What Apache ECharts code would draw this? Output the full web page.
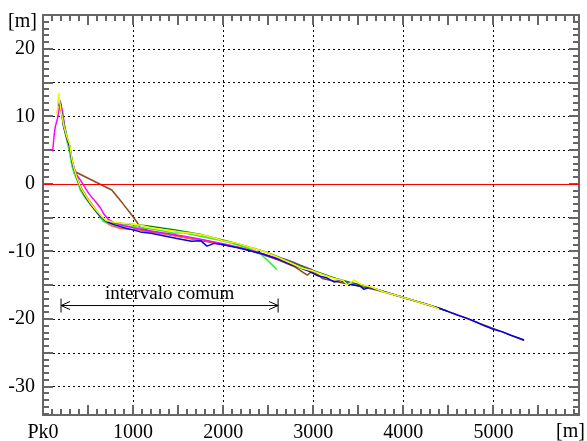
<!DOCTYPE html>
<html>
<head>
<meta charset="utf-8">
<script src="https://cdn.jsdelivr.net/npm/echarts@6/dist/echarts.min.js"></script>
<style>
html,body{margin:0;padding:0;background:#fff;}
#c{width:587px;height:441px;}
</style>
</head>
<body>
<div id="c"></div>
<script>
// ---- axis ranges / tick labels ----
const X_MIN = 0, X_MAX = 5950;
const Y_MIN = -34.2, Y_MAX = 25;
const xTickLabels = ['Pk0', '1000', '2000', '3000', '4000', '5000'];
const xUnit = '[m]';
const yUnit = '[m]';
const zeroLevel = 0;

// ---- annotation ----
const annotX = [200, 2610];
const annotY = -18;
const annotText = 'intervalo comum';

// ---- series (distance [m], level [m]) ----
const brownX = [195, 229, 267, 296, 322, 356, 763, 880, 985, 1040, 1081, 1200, 1400, 1600, 1800, 2000, 2200, 2400, 2600, 2800, 2933, 2980, 3050, 3100, 3200, 3300, 3500, 3700, 3900, 4100, 4300, 4500, 4700, 4900, 5100, 5341];
const brownY = [12.0, 8.6, 6.8, 5.5, 3.4, 1.8, -0.9, -2.8, -4.6, -5.6, -6.5, -7.0, -7.5, -8.0, -8.5, -9.0, -9.5, -10.3, -11.2, -12.3, -13.5, -13.0, -13.4, -14.0, -14.3, -14.6, -15.1, -15.7, -16.4, -17.2, -18.0, -18.9, -19.9, -20.9, -21.9, -23.2];

const orangeX = [195, 229, 267, 296, 322, 345, 380, 430, 490, 560, 630, 690, 760, 859, 950, 1050, 1200, 1350, 1500, 1650, 1800, 1950, 2100, 2250, 2400, 2550, 2700];
const orangeY = [11.6, 8.8, 6.6, 5.4, 3.2, 2.1, 0.8, -0.7, -2.0, -3.3, -4.6, -5.6, -6.2, -6.6, -6.7, -6.8, -7.1, -7.4, -7.8, -8.1, -8.4, -8.8, -9.2, -9.6, -10.2, -10.9, -11.6];

const lgreenX = [178, 192, 215, 240, 267, 296, 322, 345, 377, 414, 470, 520, 562, 618, 673, 720, 800, 900, 1000, 1100, 1250, 1350, 1450, 1550, 1650, 1800, 1950, 2100, 2250, 2400, 2467, 2530, 2596];
const lgreenY = [12.6, 11.6, 9.5, 7.8, 6.3, 4.6, 2.6, 1.6, 0.6, -0.9, -2.1, -2.9, -3.6, -4.6, -5.6, -5.8, -6.0, -6.2, -6.3, -6.5, -6.8, -7.0, -7.3, -7.2, -7.5, -7.9, -8.3, -8.8, -9.4, -10.2, -11.0, -11.8, -12.7];

const magentaX = [107, 126, 137, 160, 192, 215, 240, 267, 296, 322, 345, 380, 414, 460, 507, 550, 600, 640, 673, 729, 800, 900, 1000, 1150, 1300, 1450, 1600, 1750, 1900, 2050, 2200, 2350, 2500, 2600, 2700, 2780, 2850, 2930, 2990];
const magentaY = [4.8, 7.5, 8.5, 9.6, 12.2, 10.8, 8.6, 6.8, 5.5, 3.4, 2.3, 1.2, 0.6, -0.4, -1.4, -2.1, -2.9, -3.6, -4.4, -5.3, -5.8, -6.2, -6.5, -6.9, -7.2, -7.5, -7.8, -8.2, -8.6, -9.0, -9.5, -10.0, -10.6, -11.0, -11.2, -11.6, -12.0, -12.4, -12.7];

const dgreenX = [175, 190, 210, 240, 267, 296, 322, 345, 377, 420, 470, 530, 590, 650, 700, 780, 900, 1000, 1150, 1300, 1450, 1600, 1750, 1900, 2050, 2200, 2350, 2500, 2650, 2800, 2950, 3100, 3250, 3414, 3550, 3700, 3850, 4000, 4150, 4300, 4420, 4489];
const dgreenY = [11.8, 12.0, 10.6, 8.4, 6.9, 5.6, 3.5, 2.3, 0.8, -0.7, -1.9, -3.1, -4.1, -5.0, -5.5, -5.7, -5.9, -6.0, -6.2, -6.5, -6.8, -7.1, -7.5, -8.0, -8.5, -9.0, -9.6, -10.2, -11.0, -11.8, -12.6, -13.3, -14.0, -14.6, -15.0, -15.6, -16.2, -16.8, -17.4, -18.0, -18.5, -18.8];

const blueX = [175, 186, 200, 229, 267, 296, 322, 340, 377, 420, 470, 530, 590, 650, 710, 800, 900, 1000, 1080, 1200, 1350, 1500, 1650, 1750, 1820, 1900, 2000, 2150, 2300, 2450, 2600, 2750, 2850, 2950, 3050, 3150, 3230, 3300, 3420, 3520, 3563, 3620, 3700, 3800, 3900, 4000, 4100, 4200, 4300, 4400, 4500, 4600, 4711, 4800, 4900, 5000, 5100, 5193, 5280, 5341];
const blueY = [11.5, 12.4, 11.2, 8.5, 6.7, 5.6, 3.4, 2.4, 0.9, -0.6, -1.8, -3.0, -4.0, -4.9, -5.6, -6.1, -6.5, -6.8, -7.1, -7.3, -7.7, -8.1, -8.5, -8.4, -9.2, -8.8, -9.0, -9.4, -9.9, -10.4, -11.1, -11.9, -12.4, -12.9, -13.6, -13.9, -14.5, -14.3, -14.9, -15.1, -15.6, -15.3, -15.6, -16.0, -16.4, -16.8, -17.2, -17.6, -18.0, -18.4, -18.9, -19.4, -19.9, -20.4, -21.0, -21.5, -21.9, -22.4, -22.8, -23.1];

const yellowX = [148, 160, 173, 185, 205, 235, 267, 296, 322, 345, 377, 420, 470, 530, 590, 650, 700, 760, 850, 950, 1081, 1200, 1350, 1526, 1650, 1785, 1900, 2000, 2150, 2303, 2450, 2600, 2750, 2859, 3000, 3100, 3229, 3330, 3380, 3420, 3450, 3520, 3650, 3785, 3900, 4000, 4100, 4193, 4300, 4396];
const yellowY = [10.4, 11.0, 13.5, 12.2, 10.5, 8.4, 6.9, 5.9, 3.6, 2.3, 0.9, -0.6, -1.7, -2.9, -3.9, -4.8, -5.4, -5.6, -5.8, -5.9, -6.1, -6.5, -6.8, -7.1, -7.3, -7.6, -8.0, -8.4, -8.8, -9.4, -10.0, -10.8, -11.7, -12.4, -12.9, -13.4, -14.0, -14.3, -14.9, -14.6, -14.2, -14.8, -15.3, -16.0, -16.4, -16.8, -17.2, -17.6, -18.0, -18.5];

const FONT = '"Liberation Serif", "DejaVu Serif", serif';

function pairs(xs, ys) { return xs.map((x, i) => [x, ys[i]]); }

const seriesDefs = [
  { name: 'brown', color: '#8e4a1a', x: brownX, y: brownY },
  { name: 'orange', color: '#ff6430', x: orangeX, y: orangeY },
  { name: 'lgreen', color: '#33ee33', x: lgreenX, y: lgreenY },
  { name: 'magenta', color: '#ff00ff', x: magentaX, y: magentaY },
  { name: 'dgreen', color: '#008a00', x: dgreenX, y: dgreenY },
  { name: 'blue', color: '#0000ee', x: blueX, y: blueY },
  { name: 'yellow', color: '#f5f500', x: yellowX, y: yellowY }
];

const chart = echarts.init(document.getElementById('c'), null, { renderer: 'canvas' });

const tickColor = '#666';
const frameColor = '#666';
const dotted = { color: '#000', width: 1, type: [2, 3] };

const option = {
  animation: false,
  backgroundColor: '#fff',
  grid: { left: 43, right: 8, top: 15, bottom: 26, containLabel: false, outerBoundsMode: 'none' },
  xAxis: [
    {
      type: 'value', position: 'bottom', min: X_MIN, max: X_MAX,
      minInterval: 1000, maxInterval: 1000, splitNumber: 6,
      axisLine: { show: true, onZero: false, lineStyle: { color: frameColor, width: 2 } },
      axisTick: { show: false },
      axisLabel: {
        show: true, margin: 8, color: '#000', fontFamily: FONT, fontSize: 20,
        showMinLabel: true, showMaxLabel: false,
        formatter: v => { const i = Math.round(v / 1000); return (Math.abs(v - i * 1000) < 1e-6 && xTickLabels[i] !== undefined) ? xTickLabels[i] : ''; }
      },
      splitLine: { show: true, lineStyle: dotted }
    },
    {
      type: 'value', position: 'top', min: X_MIN, max: X_MAX,
      axisLine: { show: true, onZero: false, lineStyle: { color: frameColor, width: 2 } },
      axisTick: { show: false }, axisLabel: { show: false }, splitLine: { show: false }
    }
  ],
  yAxis: [
    {
      type: 'value', position: 'left', min: Y_MIN, max: Y_MAX,
      minInterval: 10, maxInterval: 10, splitNumber: 6,
      axisLine: { show: true, onZero: false, lineStyle: { color: frameColor, width: 2 } },
      axisTick: { show: false },
      axisLabel: {
        show: true, margin: 8, color: '#000', fontFamily: FONT, fontSize: 20,
        showMinLabel: false, showMaxLabel: false,
        formatter: v => String(Math.round(v))
      },
      splitLine: { show: false }
    },
    {
      type: 'value', position: 'left', min: Y_MIN, max: Y_MAX,
      minInterval: 5, maxInterval: 5, splitNumber: 12,
      axisLine: { show: false }, axisTick: { show: false }, axisLabel: { show: false },
      splitLine: { show: true, lineStyle: dotted }
    },
    {
      type: 'value', position: 'right', min: Y_MIN, max: Y_MAX,
      axisLine: { show: true, onZero: false, lineStyle: { color: frameColor, width: 2 } },
      axisTick: { show: false }, axisLabel: { show: false }, splitLine: { show: false }
    }
  ],
  series: seriesDefs.map((s, idx) => {
    const o = {
      name: s.name, type: 'line', xAxisIndex: 0, yAxisIndex: 0,
      data: pairs(s.x, s.y), showSymbol: false, symbol: 'none', silent: true,
      lineStyle: { color: s.color, width: 1.5 }, itemStyle: { color: s.color },
      z: 3 + idx
    };
    if (idx === 0) {
      o.markLine = {
        silent: true, symbol: 'none', animation: false,
        label: { show: false },
        lineStyle: { color: '#ff0000', width: 1.2, type: 'solid' },
        emphasis: { disabled: true },
        data: [{ yAxis: zeroLevel }]
      };
    }
    return o;
  })
};

chart.setOption(option);

function px(x, y) { return chart.convertToPixel({ xAxisIndex: 0, yAxisIndex: 0 }, [x, y]); }

const a = px(annotX[0], annotY);
const b = px(annotX[1], annotY);
const head = 9, spread = 4, bar = 7;
const tl = px(X_MIN, Y_MAX);
const br = px(X_MAX, Y_MIN);

const graphics = [];
function addLine(x1, y1, x2, y2, color, width, z) {
  graphics.push({ type: 'line', silent: true, z: z, shape: { x1: x1, y1: y1, x2: x2, y2: y2 }, style: { stroke: color, lineWidth: width, fill: null } });
}

// axis ticks: minor every 100 m / 1 m, longer every 500 m / 5 m, positioned through the axis scales
for (let v = 100; v < X_MAX; v += 100) {
  const p = Math.round(px(v, 0)[0]);
  const len = (v % 500 === 0) ? 10 : 6;
  addLine(p, br[1], p, br[1] - len, tickColor, 2, 1);
  addLine(p, tl[1], p, tl[1] + len, tickColor, 2, 1);
}
for (let v = Math.ceil(Y_MIN); v < Y_MAX; v += 1) {
  const p = Math.round(px(0, v)[1]);
  const len = (v % 5 === 0) ? 10 : 6;
  addLine(tl[0], p, tl[0] + len, p, tickColor, 2, 1);
  addLine(br[0], p, br[0] - len, p, tickColor, 2, 1);
}

// annotation arrow
addLine(a[0], a[1], b[0], b[1], '#000', 1, 70);
addLine(a[0], a[1] - bar, a[0], a[1] + bar, '#000', 1, 70);
addLine(b[0], b[1] - bar, b[0], b[1] + bar, '#000', 1, 70);
addLine(a[0], a[1], a[0] + head, a[1] - spread, '#000', 1, 70);
addLine(a[0], a[1], a[0] + head, a[1] + spread, '#000', 1, 70);
addLine(b[0], b[1], b[0] - head, b[1] - spread, '#000', 1, 70);
addLine(b[0], b[1], b[0] - head, b[1] + spread, '#000', 1, 70);

graphics.push({ type: 'text', silent: true, z: 70, x: (a[0] + b[0]) / 2, y: a[1] - 2,
  style: { text: annotText, fill: '#000', font: '19px ' + FONT, align: 'center', verticalAlign: 'bottom', textAlign: 'center', textVerticalAlign: 'bottom' } });
graphics.push({ type: 'text', silent: true, z: 70, x: tl[0] - 6, y: tl[1] + 7,
  style: { text: yUnit, fill: '#000', font: '20px ' + FONT, align: 'right', verticalAlign: 'middle', textAlign: 'right', textVerticalAlign: 'middle' } });
graphics.push({ type: 'text', silent: true, z: 70, x: br[0] + 6, y: br[1] + 17,
  style: { text: xUnit, fill: '#000', font: '20px ' + FONT, align: 'right', verticalAlign: 'middle', textAlign: 'right', textVerticalAlign: 'middle' } });

chart.setOption({ graphic: graphics });
</script>
</body>
</html>
